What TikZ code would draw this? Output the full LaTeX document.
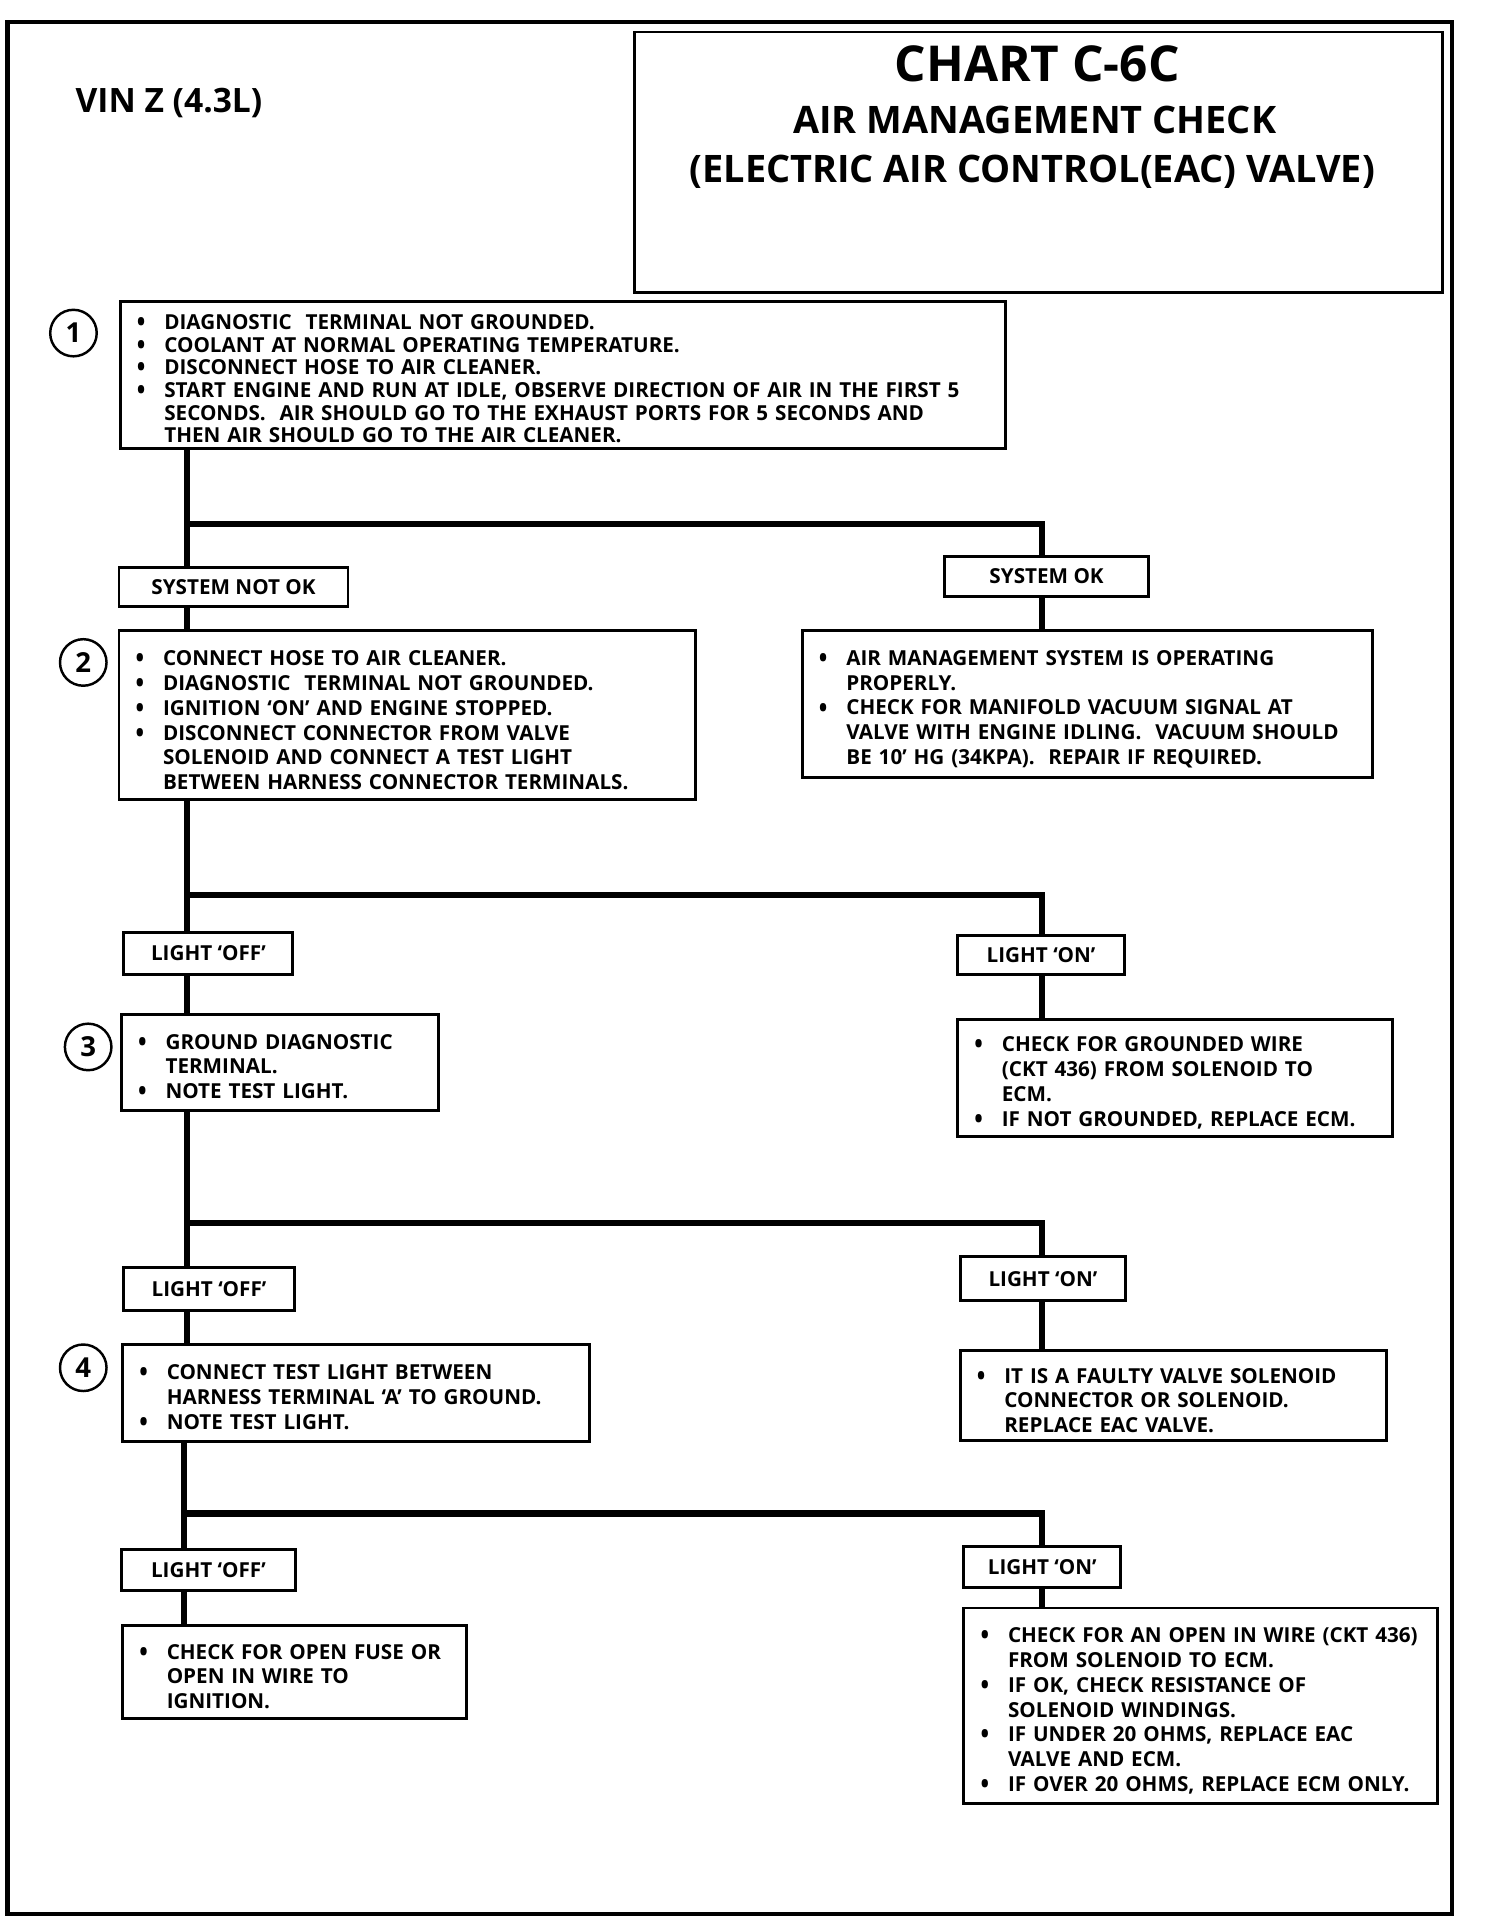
\documentclass[tikz,border=0pt]{standalone}
\usepackage{fontspec}
\usepackage{graphicx}
\setmainfont{Open Sans}
\usetikzlibrary{positioning}
\newcommand{\blt}[1]{\par\noindent\hangindent=6mm\hangafter=1\makebox[6mm][l]{\hspace{0.4mm}\raisebox{-0.1em}{\scalebox{1.1}[1.3]{\textbullet}}}#1\par}

\begin{document}
\begin{tikzpicture}[x=0.25mm,y=-0.25mm,
 box/.style={draw,line width=0.6mm,anchor=north west,inner xsep=3mm,inner ysep=0pt,align=left,font=\bfseries\fontsize{12}{14.4}\selectfont},
 tag/.style={draw,line width=0.6mm,anchor=north west,inner sep=0pt,font=\bfseries\fontsize{12}{14.4}\selectfont},
 num/.style={draw,circle,line width=0.5mm,minimum size=9.5mm,inner sep=0pt,font=\bfseries\fontsize{16}{16}\selectfont},
 trunk/.style={line width=1.25mm}]
 \useasboundingbox (0,0) rectangle (1228,1568);
 \draw[line width=0.9mm] (6,18) rectangle (1186,1563);

 % heading
 \node[font=\bfseries\fontsize{19.5}{20}\selectfont] (vin) at (138,84) {VIN Z (4.3L)};
 \node[draw,line width=0.5mm,anchor=north west,minimum width=165mm,minimum height=53.25mm,inner sep=0pt] (title) at (517,25) {};
 \node[font=\bfseries\fontsize{28.75}{30}\selectfont] (chart) at (847,52) {CHART C-6C};
 \node[font=\bfseries\fontsize{22}{24}\selectfont] (amc) at (845,98) {AIR MANAGEMENT CHECK};
 \node[font=\bfseries\fontsize{22}{24}\selectfont] (eac) at (843,140) {(ELECTRIC AIR CONTROL(EAC) VALVE)};

 % step 1
 \node[num] (c1) at (60,272) {1};
 \node[box,text width=174.75mm,minimum height=30mm,font=\bfseries\fontsize{12}{13.2}\selectfont] (b1) at (97,245) {%
 \blt{DIAGNOSTIC\ \ TERMINAL NOT GROUNDED.}
 \blt{COOLANT AT NORMAL OPERATING TEMPERATURE.}
 \blt{DISCONNECT HOSE TO AIR CLEANER.}
 \blt{START ENGINE AND RUN AT IDLE, OBSERVE DIRECTION OF AIR IN THE FIRST 5\newline SECONDS.\ \ AIR SHOULD GO TO THE EXHAUST PORTS FOR 5 SECONDS AND\newline THEN AIR SHOULD GO TO THE AIR CLEANER.}};
 \node[tag,minimum width=46.75mm,minimum height=8mm] (nok) at (96,462) {SYSTEM NOT OK};
 \node[tag,minimum width=41.75mm,minimum height=8.25mm] (ok) at (770,453) {SYSTEM OK};

 % step 2
 \node[num] (c2) at (68,541) {2};
 \node[box,text width=111.75mm,minimum height=34.5mm] (b2) at (96,514) {%
 \blt{CONNECT HOSE TO AIR CLEANER.}
 \blt{DIAGNOSTIC\ \ TERMINAL NOT GROUNDED.}
 \blt{IGNITION ‘ON’ AND ENGINE STOPPED.}
 \blt{DISCONNECT CONNECTOR FROM VALVE\newline SOLENOID AND CONNECT A TEST LIGHT\newline BETWEEN HARNESS CONNECTOR TERMINALS.}};
 \node[box,text width=110.5mm,minimum height=30mm] (bok) at (654,514) {%
 \blt{AIR MANAGEMENT SYSTEM IS OPERATING\newline PROPERLY.}
 \blt{CHECK FOR MANIFOLD VACUUM SIGNAL AT\newline VALVE WITH ENGINE IDLING.\ \ VACUUM SHOULD\newline BE 10’ HG (34KPA).\ \ REPAIR IF REQUIRED.}};
 \node[tag,minimum width=34.5mm,minimum height=8.75mm] (off1) at (100,760) {LIGHT ‘OFF’};
 \node[tag,minimum width=34mm,minimum height=8mm] (on1) at (781,763) {LIGHT ‘ON’};

 % step 3
 \node[num] (c3) at (72,855) {3};
 \node[box,text width=58.75mm,minimum height=19.75mm] (b3) at (98,827) {%
 \blt{GROUND DIAGNOSTIC\newline TERMINAL.}
 \blt{NOTE TEST LIGHT.}};
 \node[box,text width=82.75mm,minimum height=24mm] (bon1) at (781,831) {%
 \blt{CHECK FOR GROUNDED WIRE\newline (CKT 436) FROM SOLENOID TO\newline ECM.}
 \blt{IF NOT GROUNDED, REPLACE ECM.}};
 \node[tag,minimum width=34.75mm,minimum height=8.75mm] (off2) at (100,1034) {LIGHT ‘OFF’};
 \node[tag,minimum width=33.75mm,minimum height=9mm] (on2) at (783,1025) {LIGHT ‘ON’};

 % step 4
 \node[num] (c4) at (68,1117) {4};
 \node[box,text width=89.25mm,minimum height=19.75mm] (b4) at (99,1097) {%
 \blt{CONNECT TEST LIGHT BETWEEN\newline HARNESS TERMINAL ‘A’ TO GROUND.}
 \blt{NOTE TEST LIGHT.}};
 \node[box,text width=81mm,minimum height=18.25mm] (bon2) at (783,1102) {%
 \blt{IT IS A FAULTY VALVE SOLENOID\newline CONNECTOR OR SOLENOID.\newline REPLACE EAC VALVE.}};
 \node[tag,minimum width=35.5mm,minimum height=8.5mm] (off3) at (98,1264) {LIGHT ‘OFF’};
 \node[tag,minimum width=32mm,minimum height=8.25mm] (on3) at (786,1262) {LIGHT ‘ON’};

 % last results
 \node[box,text width=64.25mm,minimum height=19mm] (bfuse) at (99,1326) {%
 \blt{CHECK FOR OPEN FUSE OR\newline OPEN IN WIRE TO\newline IGNITION.}};
 \node[box,text width=90.75mm,minimum height=40mm] (bopen) at (786,1312) {%
 \blt{CHECK FOR AN OPEN IN WIRE (CKT 436)\newline FROM SOLENOID TO ECM.}
 \blt{IF OK, CHECK RESISTANCE OF\newline SOLENOID WINDINGS.}
 \blt{IF UNDER 20 OHMS, REPLACE EAC\newline VALVE AND ECM.}
 \blt{IF OVER 20 OHMS, REPLACE ECM ONLY.}};

 % connectors
 \coordinate (L) at (153,0);
 \coordinate (L2) at (150,0);
 \coordinate (R) at (851,0);
 \coordinate (j1) at (0,428);
 \coordinate (j2) at (0,731);
 \coordinate (j3) at (0,999);
 \coordinate (j4) at (0,1236);
 \draw[trunk] (b1.south -| L) -- (nok.north -| L);
 \draw[trunk] (L |- j1) -| (ok.north -| R);
 \draw[trunk] (nok.south -| L) -- (b2.north -| L);
 \draw[trunk] (ok.south -| R) -- (bok.north -| R);
 \draw[trunk] (b2.south -| L) -- (off1.north -| L);
 \draw[trunk] (L |- j2) -| (on1.north -| R);
 \draw[trunk] (off1.south -| L) -- (b3.north -| L);
 \draw[trunk] (on1.south -| R) -- (bon1.north -| R);
 \draw[trunk] (b3.south -| L) -- (off2.north -| L);
 \draw[trunk] (L |- j3) -| (on2.north -| R);
 \draw[trunk] (off2.south -| L) -- (b4.north -| L);
 \draw[trunk] (on2.south -| R) -- (bon2.north -| R);
 \draw[trunk] (b4.south -| L2) -- (off3.north -| L2);
 \draw[trunk] (L2 |- j4) -| (on3.north -| R);
 \draw[trunk] (off3.south -| L2) -- (bfuse.north -| L2);
 \draw[trunk] (on3.south -| R) -- (bopen.north -| R);
\end{tikzpicture}
\end{document}
